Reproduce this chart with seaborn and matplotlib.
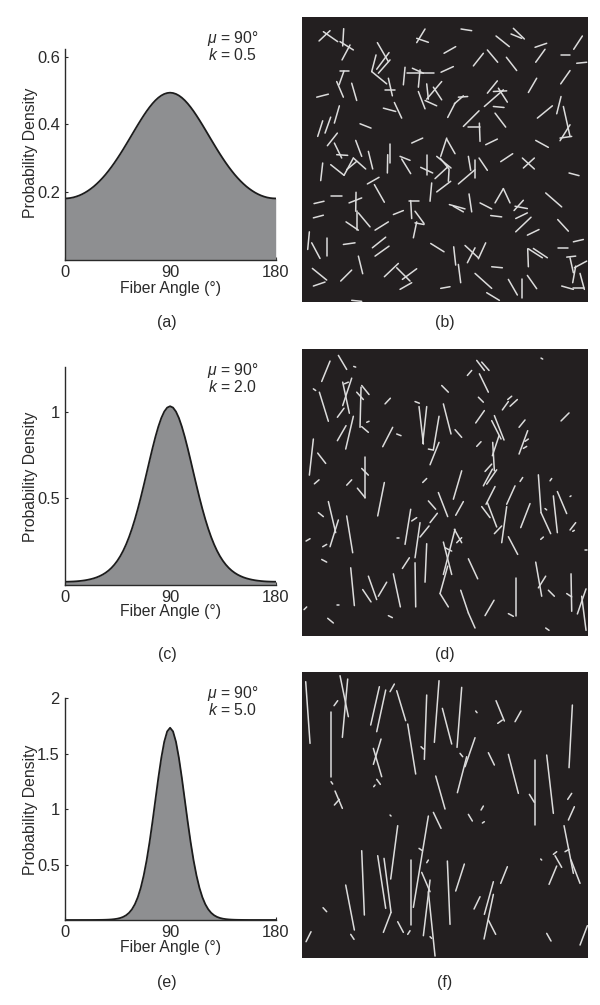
# -*- coding: utf-8 -*-
"""
Fiber angle distributions (left) and the matching fiber images (right)
"""
import matplotlib
matplotlib.use("Agg")
import matplotlib.pyplot as plt
import pandas as pd
import seaborn as sns

# fiber angle axis, 2.5 degree steps
angles = [i * 2.5 for i in range(73)]

half_a = [.4935, .4925, .4897, .4851, .4788, .4709, .4615, .4508, .4390, .4262,
          .4127, .3987, .3843, .3697, .3551, .3407, .3264, .3126, .2993, .2865,
          .2744, .2630, .2522, .2423, .2331, .2247, .2170, .2102, .2041, .1987,
          .1941, .1902, .1871, .1846, .1829, .1819, .1815]
half_c = [1.0318, 1.0239, 1.0009, .9639, .9145, .8555, .7892, .7186, .6462, .5744,
          .5050, .4397, .3796, .3251, .2767, .2343, .1976, .1662, .1396, .1173,
          .0987, .0832, .0705, .0600, .0514, .0443, .0386, .0340, .0302, .0271,
          .0247, .0228, .0213, .0202, .0195, .0190, .0189]
half_e = [1.7342, 1.7011, 1.6076, 1.4625, 1.2833, 1.0856, .8876, .7022, .5382, .4012,
          .2907, .2057, .1424, .0967, .0646, .0426, .0278, .0181, .0117, .0076,
          .0049, .0032, .0021, .0014, .0010, .0007, .0005, .0003, .0002, .0002,
          .0002, .0001, .0001, .0001, .0001, .0001, .0001]

# density goes from the edge up to the peak at 90 and back down
density_a = half_a[:0:-1] + half_a
density_c = half_c[:0:-1] + half_c
density_e = half_e[:0:-1] + half_e

yticks_a = [0.2, 0.4, 0.6]
yticks_c = [0.5, 1]
yticks_e = [0.5, 1, 1.5, 2]
yticklabels_a = ["0.2", "0.4", "0.6"]
yticklabels_c = ["0.5", "1"]
yticklabels_e = ["0.5", "1", "1.5", "2"]
xticks = [0, 90, 180]
xticklabels = ["0", "90", "180"]

# fibers as (x1, y1, x2, y2) on a 0-900 grid
fibers_b = [
    (72, 93, 105, 62), (85, 65, 128, 95), (146, 56, 143, 108), (135, 95, 175, 120),
    (165, 105, 141, 150), (390, 57, 365, 98), (365, 85, 400, 97), (498, 57, 530, 62),
    (655, 55, 688, 87), (648, 72, 680, 85), (603, 78, 643, 110), (862, 78, 836, 118),
    (720, 112, 755, 100), (750, 118, 722, 157), (798, 135, 826, 135), (845, 160, 875, 157),
    (447, 130, 482, 110), (535, 168, 565, 130), (577, 120, 608, 157), (634, 142, 665, 182),
    (247, 98, 280, 155), (282, 128, 245, 178), (243, 135, 230, 185), (230, 185, 275, 222),
    (285, 150, 250, 190), (438, 187, 475, 170), (330, 172, 325, 225), (335, 190, 418, 190),
    (375, 180, 370, 232), (352, 175, 385, 190), (135, 183, 162, 183), (147, 183, 132, 225),
    (125, 215, 145, 262), (170, 220, 185, 272), (65, 262, 100, 253), (280, 205, 292, 258),
    (270, 240, 300, 240), (825, 182, 797, 222), (725, 205, 700, 248), (607, 213, 577, 250),
    (635, 243, 595, 245), (610, 235, 637, 277), (625, 240, 568, 290), (595, 290, 627, 293),
    (395, 222, 400, 268), (370, 245, 390, 297), (440, 215, 395, 268), (415, 232, 440, 270),
    (390, 272, 425, 288), (518, 260, 490, 262), (505, 258, 478, 282), (480, 280, 458, 323),
    (265, 295, 302, 305), (298, 278, 320, 325), (133, 288, 118, 340), (107, 322, 90, 370),
    (83, 333, 68, 380), (195, 342, 228, 355), (552, 303, 505, 350), (600, 310, 632, 352),
    (772, 288, 727, 325), (798, 260, 785, 312), (805, 290, 825, 380), (825, 345, 795, 393),
    (795, 385, 830, 380), (518, 353, 555, 353), (553, 340, 555, 395), (607, 388, 572, 405),
    (350, 400, 383, 385), (722, 392, 760, 413), (127, 370, 97, 408), (118, 400, 140, 445),
    (125, 435, 158, 437), (182, 392, 200, 440), (455, 385, 437, 440), (455, 388, 480, 432),
    (285, 403, 285, 460), (278, 435, 277, 490), (220, 425, 233, 478), (315, 440, 345, 452),
    (320, 448, 347, 492), (395, 437, 395, 497), (377, 473, 413, 490), (425, 440, 468, 475),
    (435, 445, 462, 478), (460, 470, 420, 507), (462, 480, 460, 515), (467, 515, 425, 547),
    (410, 520, 405, 575), (83, 460, 77, 513), (107, 465, 147, 497), (147, 497, 175, 445),
    (175, 445, 212, 478), (155, 480, 185, 455), (520, 440, 527, 482), (552, 445, 577, 482),
    (540, 450, 540, 505), (540, 480, 490, 523), (653, 432, 617, 456), (682, 445, 718, 478),
    (718, 445, 685, 475), (822, 490, 852, 498), (252, 503, 217, 523), (238, 525, 268, 578),
    (107, 560, 140, 560), (57, 582, 87, 575), (200, 565, 162, 580), (183, 548, 182, 605),
    (55, 625, 85, 617), (187, 605, 187, 660), (153, 637, 190, 662), (190, 610, 225, 652),
    (240, 662, 280, 637), (295, 615, 325, 603), (343, 573, 372, 573), (347, 573, 350, 627),
    (360, 605, 387, 642), (360, 640, 387, 645), (365, 637, 355, 685), (463, 585, 510, 598),
    (475, 590, 505, 607), (522, 553, 530, 607), (555, 580, 590, 598), (625, 537, 600, 580),
    (625, 537, 645, 580), (587, 618, 620, 622), (752, 550, 800, 592), (685, 572, 657, 603),
    (660, 590, 697, 597), (662, 627, 697, 610), (708, 623, 662, 667), (697, 677, 732, 660),
    (788, 630, 820, 665), (43, 667, 38, 720), (50, 700, 75, 747), (96, 687, 96, 740),
    (145, 705, 180, 700), (232, 715, 272, 683), (240, 740, 282, 710), (407, 702, 447, 727),
    (476, 712, 482, 767), (510, 708, 550, 745), (540, 715, 517, 760), (572, 700, 550, 748),
    (698, 718, 700, 772), (700, 718, 742, 745), (715, 717, 757, 745), (790, 716, 820, 716),
    (835, 697, 865, 690), (815, 743, 842, 740), (825, 745, 835, 790), (875, 755, 838, 775),
    (842, 770, 833, 820), (855, 792, 868, 840), (800, 830, 835, 840), (835, 837, 868, 837),
    (190, 740, 203, 793), (52, 777, 95, 812), (55, 830, 90, 818), (137, 815, 170, 782),
    (268, 802, 310, 762), (305, 775, 345, 815), (322, 810, 365, 778), (315, 840, 350, 820),
    (437, 837, 465, 832), (490, 765, 497, 820), (540, 792, 590, 837), (590, 772, 622, 775),
    (640, 810, 667, 857), (680, 810, 680, 865), (697, 798, 725, 838), (575, 850, 613, 873),
    (170, 873, 200, 876),
]

fibers_d = [
    (105, 57, 80, 118), (130, 40, 155, 82), (176, 73, 182, 75), (55, 140, 62, 145),
    (73, 150, 100, 237), (143, 120, 163, 213), (170, 108, 143, 190), (148, 125, 160, 120),
    (198, 135, 195, 255), (200, 130, 222, 157), (185, 150, 205, 172), (147, 198, 127, 225),
    (175, 222, 152, 320), (153, 250, 127, 295), (222, 237, 215, 240), (200, 253, 220, 270),
    (286, 168, 270, 185), (293, 255, 263, 313), (305, 275, 318, 280), (55, 290, 43, 398),
    (68, 332, 92, 363), (210, 345, 210, 465), (200, 378, 220, 398), (187, 437, 210, 465),
    (170, 412, 155, 428), (72, 412, 58, 424), (268, 420, 248, 520), (100, 477, 122, 570),
    (130, 532, 105, 612), (70, 510, 85, 522), (155, 520, 173, 630), (45, 588, 33, 595),
    (95, 605, 83, 612), (80, 650, 95, 658), (167, 675, 178, 788), (203, 740, 228, 777),
    (220, 700, 245, 770), (275, 718, 250, 760), (295, 693, 316, 792), (35, 792, 27, 800),
    (127, 785, 132, 785), (98, 826, 115, 840), (280, 818, 292, 824), (347, 500, 330, 605),
    (350, 535, 365, 525), (305, 587, 312, 587), (375, 540, 360, 645), (402, 550, 375, 583),
    (427, 512, 405, 540), (395, 603, 390, 718), (343, 645, 322, 677), (360, 660, 362, 792),
    (360, 178, 373, 183), (372, 193, 385, 305), (395, 193, 383, 303), (432, 222, 415, 322),
    (432, 300, 405, 367), (400, 320, 415, 323), (395, 408, 383, 420), (445, 185, 468, 275),
    (440, 130, 460, 150), (480, 262, 500, 285), (500, 385, 475, 470), (430, 450, 458, 522),
    (400, 475, 422, 500), (505, 477, 482, 518), (445, 598, 470, 695), (480, 560, 445, 695),
    (450, 615, 470, 625), (478, 560, 500, 600), (485, 600, 500, 585), (458, 670, 435, 752),
    (435, 752, 460, 792), (520, 648, 548, 708), (497, 742, 520, 810), (520, 810, 540, 855),
    (597, 772, 570, 818), (640, 812, 655, 820), (663, 705, 663, 820), (517, 100, 530, 85),
    (545, 55, 568, 85), (560, 60, 582, 85), (553, 95, 580, 150), (550, 165, 565, 180),
    (650, 162, 638, 172), (640, 178, 622, 203), (667, 172, 645, 192), (568, 205, 542, 242),
    (545, 312, 558, 298), (598, 220, 627, 293), (590, 235, 618, 290), (612, 280, 592, 340),
    (593, 300, 598, 385), (590, 365, 570, 387), (592, 380, 565, 430), (605, 382, 575, 425),
    (600, 432, 573, 485), (690, 233, 672, 255), (698, 265, 672, 335), (700, 290, 690, 297),
    (695, 312, 685, 318), (822, 212, 798, 236), (738, 48, 743, 51), (683, 405, 675, 417),
    (770, 408, 765, 415), (660, 430, 635, 485), (730, 397, 738, 510), (738, 510, 767, 573),
    (775, 460, 787, 570), (787, 447, 815, 513), (705, 483, 677, 555), (635, 492, 620, 600),
    (577, 480, 605, 553), (560, 492, 585, 525), (620, 550, 598, 573), (640, 582, 668, 635),
    (745, 583, 737, 590), (750, 498, 755, 502), (825, 462, 828, 460), (842, 540, 825, 562),
    (838, 563, 833, 566), (870, 623, 877, 623), (722, 658, 740, 760), (752, 700, 730, 735),
    (760, 742, 778, 760), (815, 752, 830, 762), (828, 693, 830, 805), (873, 738, 847, 813),
    (860, 760, 873, 862), (752, 855, 762, 862),
]

fibers_f = [
    (32, 50, 45, 235), (135, 32, 160, 155), (158, 42, 142, 217), (107, 142, 107, 337),
    (128, 107, 117, 122), (108, 350, 113, 357), (120, 378, 142, 430), (133, 403, 118, 420),
    (253, 65, 227, 180), (272, 75, 245, 200), (298, 57, 285, 80), (305, 77, 332, 167),
    (338, 177, 362, 327), (258, 222, 235, 298), (235, 250, 260, 335), (245, 343, 256, 358),
    (240, 360, 236, 365), (395, 90, 388, 283), (378, 245, 385, 252), (432, 47, 418, 232),
    (442, 130, 470, 237), (500, 67, 486, 247), (495, 265, 503, 275), (540, 218, 510, 305),
    (515, 275, 487, 383), (542, 138, 546, 143), (603, 107, 628, 168), (622, 165, 608, 175),
    (678, 138, 660, 170), (580, 263, 598, 300), (640, 268, 670, 385), (720, 285, 720, 480),
    (703, 388, 718, 412), (755, 270, 775, 445), (832, 120, 822, 308), (830, 385, 818, 403),
    (838, 425, 820, 465), (422, 333, 450, 432), (565, 423, 558, 435), (520, 448, 532, 468),
    (568, 470, 562, 474), (285, 450, 288, 453), (415, 442, 438, 490), (400, 453, 355, 727),
    (372, 550, 382, 557), (308, 482, 287, 642), (200, 557, 208, 750), (248, 572, 272, 730),
    (267, 580, 288, 742), (288, 742, 265, 802), (347, 585, 347, 780), (400, 585, 395, 593),
    (380, 622, 405, 680), (405, 645, 385, 812), (400, 680, 420, 873), (457, 588, 465, 778),
    (508, 597, 482, 678), (637, 605, 617, 655), (595, 650, 568, 748), (595, 688, 567, 822),
    (555, 695, 537, 732), (580, 765, 602, 808), (152, 660, 178, 795), (84, 728, 95, 740),
    (48, 800, 33, 830), (167, 808, 177, 823), (308, 770, 325, 802), (345, 797, 338, 808),
    (405, 815, 410, 820), (737, 582, 740, 585), (807, 482, 835, 625), (785, 560, 775, 568),
    (822, 553, 810, 560), (780, 572, 800, 607), (785, 603, 762, 658), (828, 585, 855, 655),
    (755, 805, 768, 828), (877, 782, 855, 840),
]

FIG_W, FIG_H = 600, 1005
DARK = "#231f20"
FILL = "#8e8f91"
FIBER = "#dcdcdc"
INK = "#2a2a2a"

sns.set_style("ticks")
plt.rcParams["font.family"] = ["Liberation Sans", "DejaVu Sans"]
plt.rcParams["mathtext.fontset"] = "custom"
plt.rcParams["mathtext.it"] = "Liberation Sans:italic"
plt.rcParams["mathtext.rm"] = "Liberation Sans"

fig = plt.figure(figsize=(FIG_W / 100, FIG_H / 100), dpi=100)


def axes_from_pixels(left, top, right, bottom):
    """ add an axes given its edges in image pixels, y counted from the top """
    return fig.add_axes(
        [left / FIG_W, 1 - bottom / FIG_H, (right - left) / FIG_W, (bottom - top) / FIG_H]
    )


def text_at(x, y, label, size):
    """ figure text centered on an image pixel """
    fig.text(x / FIG_W, 1 - y / FIG_H, label, ha="center", va="center", fontsize=size, color=INK)


def draw_density(top, bottom, ymax, density, yticks, yticklabels, k_text, panel, text_ys):
    """ gray filled density curve with the left and bottom axes only """
    mu_y, k_y, ylabel_y, xlabel_y, panel_y = text_ys
    ax = axes_from_pixels(64.5, top, 275.7, bottom)
    ax.fill_between(angles, density, 0, color=FILL, linewidth=0)
    sns.lineplot(x=angles, y=density, color="#1c1c1c", linewidth=1.3, ax=ax)
    ax.set_xlim(0, 180)
    ax.set_ylim(0, ymax)
    ax.set_xticks(xticks)
    ax.set_xticklabels(xticklabels)
    ax.set_yticks(yticks)
    ax.set_yticklabels(yticklabels)
    ax.tick_params(direction="in", length=2.5, width=0.8, pad=3.4, color=INK,
                   labelcolor=INK, labelsize=11.9)
    ax.tick_params(axis="x", pad=3.6)
    sns.despine(ax=ax)
    for side in ["left", "bottom"]:
        ax.spines[side].set_linewidth(1.0)
        ax.spines[side].set_color(INK)
    height = bottom - top
    ax.set_xlabel("Fiber Angle (°)", fontsize=11.3, color=INK, va="center")
    ax.xaxis.set_label_coords(0.5, (bottom - xlabel_y) / height)
    ax.set_ylabel("Probability Density", fontsize=11.3, color=INK, va="center")
    ax.yaxis.set_label_coords((30 - 64.5) / 211.2, (bottom - ylabel_y) / height)
    text_at(233, mu_y, r"$\mu$ = 90°", 11.3)
    text_at(233, k_y, r"$k$ = " + k_text, 11.3)
    text_at(167, panel_y, panel, 11.5)


def draw_fibers(top, bottom, fibers, panel, label_y):
    """ dark square with each fiber as one short light line """
    ax = axes_from_pixels(301.7, top, 587.7, bottom)
    ax.set_facecolor(DARK)
    rows = []
    for i, (x1, y1, x2, y2) in enumerate(fibers):
        rows.append({"fiber": i, "x": x1, "y": y1})
        rows.append({"fiber": i, "x": x2, "y": y2})
    df = pd.DataFrame(rows)
    sns.lineplot(data=df, x="x", y="y", units="fiber", estimator=None, color=FIBER,
                 linewidth=1.1, ax=ax, legend=False)
    ax.set_xlim(20, 878)
    ax.set_ylim(878, 20)
    ax.set_xticks([])
    ax.set_yticks([])
    ax.set_xlabel("")
    ax.set_ylabel("")
    for spine in ax.spines.values():
        spine.set_visible(False)
    text_at(445, label_y, panel, 11.5)


draw_density(49.3, 260, 0.6215, density_a, yticks_a, yticklabels_a, "0.5", "(a)",
             (38, 55, 153, 288, 322))
draw_density(366.7, 585, 1.26, density_c, yticks_c, yticklabels_c, "2.0", "(c)",
             (370, 387, 477, 611.5, 654))
draw_density(698.3, 920, 2.0, density_e, yticks_e, yticklabels_e, "5.0", "(e)",
             (693, 710, 810, 947, 982))

draw_fibers(16.7, 302, fibers_b, "(b)", 322)
draw_fibers(348.7, 635.7, fibers_d, "(d)", 654)
draw_fibers(671.7, 957.7, fibers_f, "(f)", 982)

fig.savefig("out.png", dpi=100)
